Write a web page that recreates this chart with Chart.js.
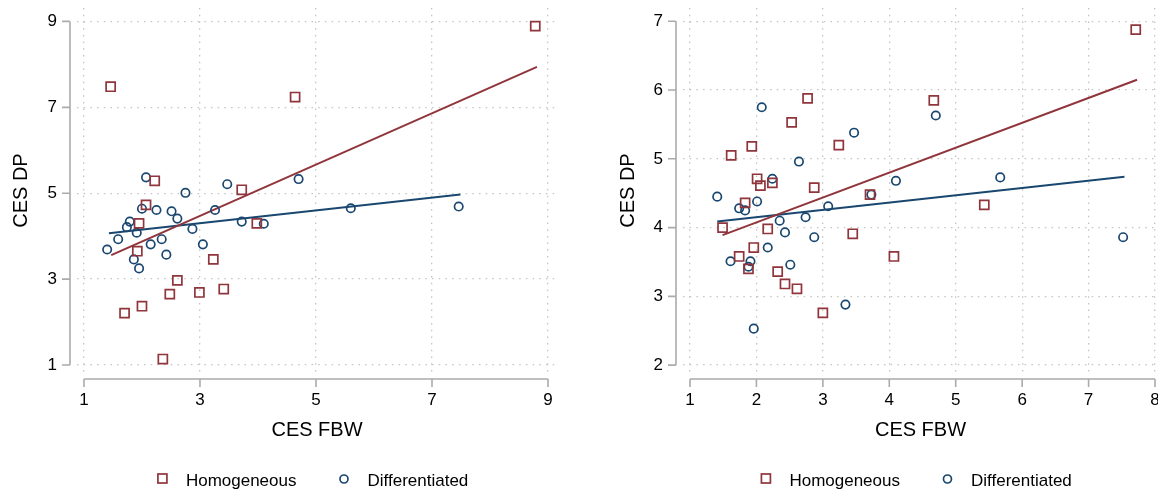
<!DOCTYPE html>
<html>
<head>
  <meta charset="UTF-8">
  <title>CES DP vs CES FBW</title>

  <style type="text/css">
    body { margin: 0; background: #fff; overflow: hidden; }
    #wrap { position: relative; width: 1158px; height: 493px; overflow: hidden; }
    #wrap canvas { position: absolute; top: 0; }
    #left { left: 0; }
    #right { left: 580px; }
  </style>

  <script type="text/javascript" src="https://cdn.jsdelivr.net/npm/chart.js"></script>

<script>
// ---- left panel ----
var leftTicksX = [1, 3, 5, 7, 9];
var leftTicksY = [1, 3, 5, 7, 9];

var leftHomX = [1.46, 4.64, 8.78, 2.22, 3.72, 2.07, 1.95, 3.98, 1.92, 3.23, 2.61, 3.41, 2.48, 2.99, 2.00, 1.70, 2.36];
var leftHomY = [7.48, 7.24, 8.89, 5.29, 5.08, 4.73, 4.30, 4.30, 3.65, 3.46, 2.97, 2.77, 2.65, 2.69, 2.37, 2.21, 1.14];

var leftDifX = [1.40, 1.59, 1.74, 1.79, 1.91, 1.86, 1.95, 2.00, 2.07, 2.15, 2.25, 2.34, 2.42, 2.51, 2.61, 2.75, 2.87, 3.05, 3.26, 3.47, 3.72, 4.10, 4.70, 5.60, 7.46];
var leftDifY = [3.69, 3.93, 4.21, 4.34, 4.08, 3.46, 3.25, 4.64, 5.37, 3.81, 4.61, 3.93, 3.57, 4.58, 4.41, 5.01, 4.17, 3.81, 4.61, 5.21, 4.34, 4.29, 5.33, 4.65, 4.69];

var leftHomFitX = [1.47, 8.81];
var leftHomFitY = [3.56, 7.94];
var leftDifFitX = [1.43, 7.49];
var leftDifFitY = [4.07, 4.97];

// ---- right panel ----
var rightTicksX = [1, 2, 3, 4, 5, 6, 7, 8];
var rightTicksY = [2, 3, 4, 5, 6, 7];

var rightHomX = [7.71, 2.77, 4.67, 2.53, 3.24, 1.93, 1.62, 2.01, 2.06, 2.24, 2.87, 3.71, 5.43, 1.83, 1.49, 2.17, 3.45, 1.96, 1.74, 4.07, 1.88, 2.32, 2.43, 2.61, 3.00];
var rightHomY = [6.88, 5.88, 5.85, 5.53, 5.20, 5.18, 5.05, 4.71, 4.61, 4.65, 4.58, 4.48, 4.33, 4.36, 4.00, 3.98, 3.91, 3.71, 3.58, 3.58, 3.40, 3.36, 3.18, 3.11, 2.76];

var rightDifX = [2.08, 4.70, 3.47, 2.64, 5.67, 2.24, 4.10, 1.41, 2.01, 3.73, 1.74, 1.83, 3.08, 2.74, 2.35, 2.43, 2.87, 7.52, 2.17, 1.61, 1.91, 1.88, 2.51, 3.34, 1.96];
var rightDifY = [5.75, 5.63, 5.38, 4.96, 4.73, 4.71, 4.68, 4.45, 4.38, 4.48, 4.28, 4.25, 4.31, 4.15, 4.10, 3.93, 3.86, 3.86, 3.71, 3.51, 3.51, 3.43, 3.46, 2.88, 2.53];

var rightHomFitX = [1.49, 7.73];
var rightHomFitY = [3.89, 6.15];
var rightDifFitX = [1.41, 7.54];
var rightDifFitY = [4.09, 4.74];

var seriesNames = ['Homogeneous', 'Differentiated'];
</script>
</head>

<body>
  <div id="wrap">
    <canvas id="left" width="580" height="493"></canvas>
    <!-- wider than the window on purpose: the plot runs off the right edge like the original -->
    <canvas id="right" width="600" height="493"></canvas>
  </div>

<script>
var maroon = '#90353b';
var navy = '#1a476f';

Chart.defaults.font.family = '"Liberation Sans", Arial, Helvetica, sans-serif';
Chart.defaults.color = '#000';

function pts(xs, ys) {
  return xs.map(function(x, i) { return {x: x, y: ys[i]}; });
}

// stata style: detached axis lines over the tick range + a bottom legend
var stataAxes = {
  id: 'stataAxes',
  afterDraw: function(chart, args, opts) {
    var ctx = chart.ctx, a = chart.chartArea;
    var xs = chart.scales.x, ys = chart.scales.y;
    var xt = opts.xTicks, yt = opts.yTicks;
    var ax = a.left - 7, ay = a.bottom + 6;

    ctx.save();
    ctx.strokeStyle = '#ababab';
    ctx.lineWidth = 1.6;
    ctx.beginPath();
    ctx.moveTo(ax, ys.getPixelForValue(yt[0]));
    ctx.lineTo(ax, ys.getPixelForValue(yt[yt.length - 1]));
    yt.forEach(function(v) {
      var p = ys.getPixelForValue(v);
      ctx.moveTo(ax - 8, p); ctx.lineTo(ax, p);
    });
    ctx.moveTo(xs.getPixelForValue(xt[0]), ay);
    ctx.lineTo(xs.getPixelForValue(xt[xt.length - 1]), ay);
    xt.forEach(function(v) {
      var p = xs.getPixelForValue(v);
      ctx.moveTo(p, ay); ctx.lineTo(p, ay + 8);
    });
    ctx.stroke();

    // legend, roughly centred under the plot region
    ctx.font = '17px "Liberation Sans", Arial, Helvetica, sans-serif';
    ctx.textBaseline = 'middle';
    ctx.fillStyle = '#000';
    var w1 = ctx.measureText(seriesNames[0]).width;
    var w2 = ctx.measureText(seriesNames[1]).width;
    var total = 4.7 + 23.5 + w1 + 47.5 + 23.5 + w2;
    var x0 = (a.left + a.right) / 2 - 4 - total / 2 + 4.7;
    var my = 478.5;
    ctx.lineWidth = 1.7;
    ctx.strokeStyle = maroon;
    ctx.strokeRect(x0 - 4.5, my - 4.5, 9, 9);
    ctx.fillText(seriesNames[0], x0 + 23.5, my + 2.5);
    var x1 = x0 + 23.5 + w1 + 47.5;
    ctx.strokeStyle = navy;
    ctx.beginPath();
    ctx.arc(x1, my + 0.5, 4, 0, Math.PI * 2);
    ctx.stroke();
    ctx.fillText(seriesNames[1], x1 + 23.5, my + 2.5);
    ctx.restore();
  }
};

function makeChart(id, cfg) {
  var tickFont = {size: 17};
  return new Chart(document.getElementById(id), {
    type: 'scatter',
    data: {
      datasets: [
        {
          label: seriesNames[0],
          data: pts(cfg.homX, cfg.homY),
          pointStyle: 'rect',
          pointRadius: 6.4,
          borderColor: maroon,
          backgroundColor: 'rgba(0,0,0,0)',
          borderWidth: 1.7
        },
        {
          label: seriesNames[1],
          data: pts(cfg.difX, cfg.difY),
          pointStyle: 'circle',
          pointRadius: 4.2,
          borderColor: navy,
          backgroundColor: 'rgba(0,0,0,0)',
          borderWidth: 1.7
        },
        {
          type: 'line',
          label: 'fit hom',
          data: pts(cfg.homFitX, cfg.homFitY),
          borderColor: maroon,
          borderWidth: 2,
          pointRadius: 0,
          fill: false
        },
        {
          type: 'line',
          label: 'fit dif',
          data: pts(cfg.difFitX, cfg.difFitY),
          borderColor: navy,
          borderWidth: 2,
          pointRadius: 0,
          fill: false
        }
      ]
    },
    options: {
      responsive: false,
      animation: false,
      events: [],
      layout: {padding: {left: 0, right: cfg.padRight, top: 5, bottom: 0}},
      scales: {
        x: {
          type: 'linear',
          min: cfg.xMin, max: cfg.xMax,
          afterBuildTicks: function(s) { s.ticks = cfg.ticksX.map(function(v) { return {value: v}; }); },
          afterFit: function(s) { s.height = 120; s.paddingLeft = 0; s.paddingRight = 0; },
          grid: {color: '#c4c4c4', lineWidth: 1.3, drawTicks: false},
          border: {display: false, dash: [1.5, 5.2]},
          ticks: {font: tickFont, padding: 17, maxRotation: 0, autoSkip: false},
          title: {display: true, text: 'CES FBW', font: {size: 20}, padding: {top: 0, bottom: 51}}
        },
        y: {
          type: 'linear',
          min: cfg.yMin, max: cfg.yMax,
          afterBuildTicks: function(s) { s.ticks = cfg.ticksY.map(function(v) { return {value: v}; }); },
          afterFit: function(s) { s.width = cfg.yWidth; s.paddingTop = 0; s.paddingBottom = 0; },
          grid: {color: '#c4c4c4', lineWidth: 1.3, drawTicks: false},
          border: {display: false, dash: [1.5, 5.2]},
          ticks: {font: tickFont, padding: 20, autoSkip: false},
          title: {display: true, text: 'CES DP', font: {size: 20}, padding: {top: cfg.yTitlePad, bottom: 0}}
        }
      },
      plugins: {
        legend: {display: false},
        tooltip: {enabled: false},
        stataAxes: {xTicks: cfg.ticksX, yTicks: cfg.ticksY}
      }
    },
    plugins: [stataAxes]
  });
}

makeChart('left', {
  homX: leftHomX, homY: leftHomY, difX: leftDifX, difY: leftDifY,
  homFitX: leftHomFitX, homFitY: leftHomFitY, difFitX: leftDifFitX, difFitY: leftDifFitY,
  ticksX: leftTicksX, ticksY: leftTicksY,
  xMin: 0.88, xMax: 9.155, yMin: 0.815, yMax: 9.31,
  yWidth: 77, padRight: 23, yTitlePad: 9
});

makeChart('right', {
  homX: rightHomX, homY: rightHomY, difX: rightDifX, difY: rightDifY,
  homFitX: rightHomFitX, homFitY: rightHomFitY, difFitX: rightDifFitX, difFitY: rightDifFitY,
  ticksX: rightTicksX, ticksY: rightTicksY,
  xMin: 0.8946, xMax: 8.045, yMin: 1.885, yMax: 7.192,
  yWidth: 103, padRight: 22, yTitlePad: 36
});
</script>
</body>
</html>
